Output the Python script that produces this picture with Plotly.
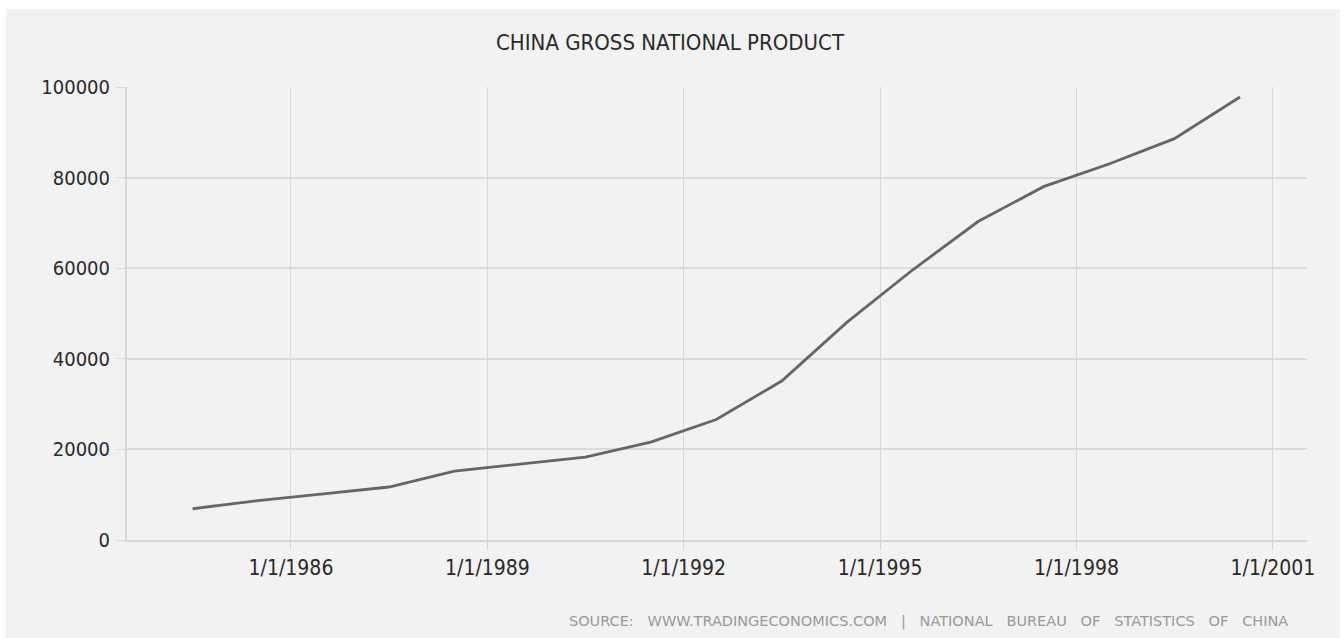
import plotly.graph_objects as go

# Data
dates = ["1984-07-01", "1985-07-01", "1986-07-01", "1987-07-01", "1988-07-01",
         "1989-07-01", "1990-07-01", "1991-07-01", "1992-07-01", "1993-07-01",
         "1994-07-01", "1995-07-01", "1996-07-01", "1997-07-01", "1998-07-01",
         "1999-07-01", "2000-07-01"]
gnp = [6900, 8700, 10200, 11700, 15200, 16800, 18300, 21600, 26600, 35100,
       48100, 59600, 70300, 78000, 83000, 88600, 97800]

x_tick_vals = ["1986-01-01", "1989-01-01", "1992-01-01", "1995-01-01", "1998-01-01", "2001-01-01"]
x_tick_text = ["1/1/1986", "1/1/1989", "1/1/1992", "1/1/1995", "1/1/1998", "1/1/2001"]
y_tick_vals = [0, 20000, 40000, 60000, 80000, 100000]
y_tick_text = ["0", "20000", "40000", "60000", "80000", "100000"]

title_text = "CHINA GROSS NATIONAL PRODUCT"
source_text = "SOURCE:   WWW.TRADINGECONOMICS.COM   |   NATIONAL   BUREAU   OF   STATISTICS   OF   CHINA"

W, H = 1344, 638
ml, mr, mt, mb = 127, 37, 87, 98

FONT = "DejaVu Sans Condensed, DejaVu Sans, sans-serif"
FONT_WIDE = "DejaVu Sans, sans-serif"

fig = go.Figure()
fig.add_trace(go.Scatter(
    x=dates, y=gnp, mode="lines",
    line=dict(color="#666666", width=2.8),
    hoverinfo="x+y", showlegend=False,
))

pw = W - ml - mr
ph = H - mt - mb
# gray panel (with thin white border like the reference)
x0 = (6 - ml) / pw
x1 = (1340 - ml) / pw
y1 = 1 + (mt - 9) / ph
y0 = -(mb) / ph
fig.add_shape(type="rect", xref="paper", yref="paper",
              x0=x0, x1=x1, y0=y0, y1=y1,
              fillcolor="#f2f2f2", line=dict(width=0), layer="below")

fig.update_layout(
    width=W, height=H,
    margin=dict(l=ml, r=mr, t=mt, b=mb, pad=0),
    paper_bgcolor="#ffffff",
    plot_bgcolor="rgba(0,0,0,0)",
    font=dict(family=FONT, color="#333333"),
    title=dict(text=title_text, x=670 / W, xanchor="center",
               y=1 - 42 / H, yanchor="middle",
               font=dict(family=FONT, size=22, color="#2a2a2a")),
    xaxis=dict(
        type="date",
        range=["1983-07-01", "2001-07-10"],
        tickvals=x_tick_vals, ticktext=x_tick_text,
        showgrid=True, gridcolor="#d8d8d8", gridwidth=1,
        showline=True, linecolor="#d6d6d6", linewidth=2,
        ticks="outside", ticklen=8, tickcolor="#d6d6d6", tickwidth=1,
        tickfont=dict(family=FONT, size=21, color="#2a2a2a"),
        zeroline=False, fixedrange=True,
    ),
    yaxis=dict(
        range=[0, 100000],
        tickvals=y_tick_vals, ticktext=y_tick_text,
        showgrid=True, gridcolor="#dadada", gridwidth=1.5,
        showline=True, linecolor="#d6d6d6", linewidth=2,
        ticks="outside", ticklen=8, tickcolor="#d6d6d6", tickwidth=1,
        ticklabelstandoff=3,
        tickfont=dict(family=FONT, size=20, color="#2a2a2a"),
        zeroline=False, fixedrange=True,
    ),
    annotations=[
        dict(text=source_text, xref="paper", yref="paper",
             x=(1290 - ml) / pw, xanchor="right",
             y=-(621 - (H - mb)) / ph, yanchor="middle",
             showarrow=False,
             font=dict(family=FONT_WIDE, size=14.5, color="#999999")),
    ],
)

fig.write_html("out.html")
